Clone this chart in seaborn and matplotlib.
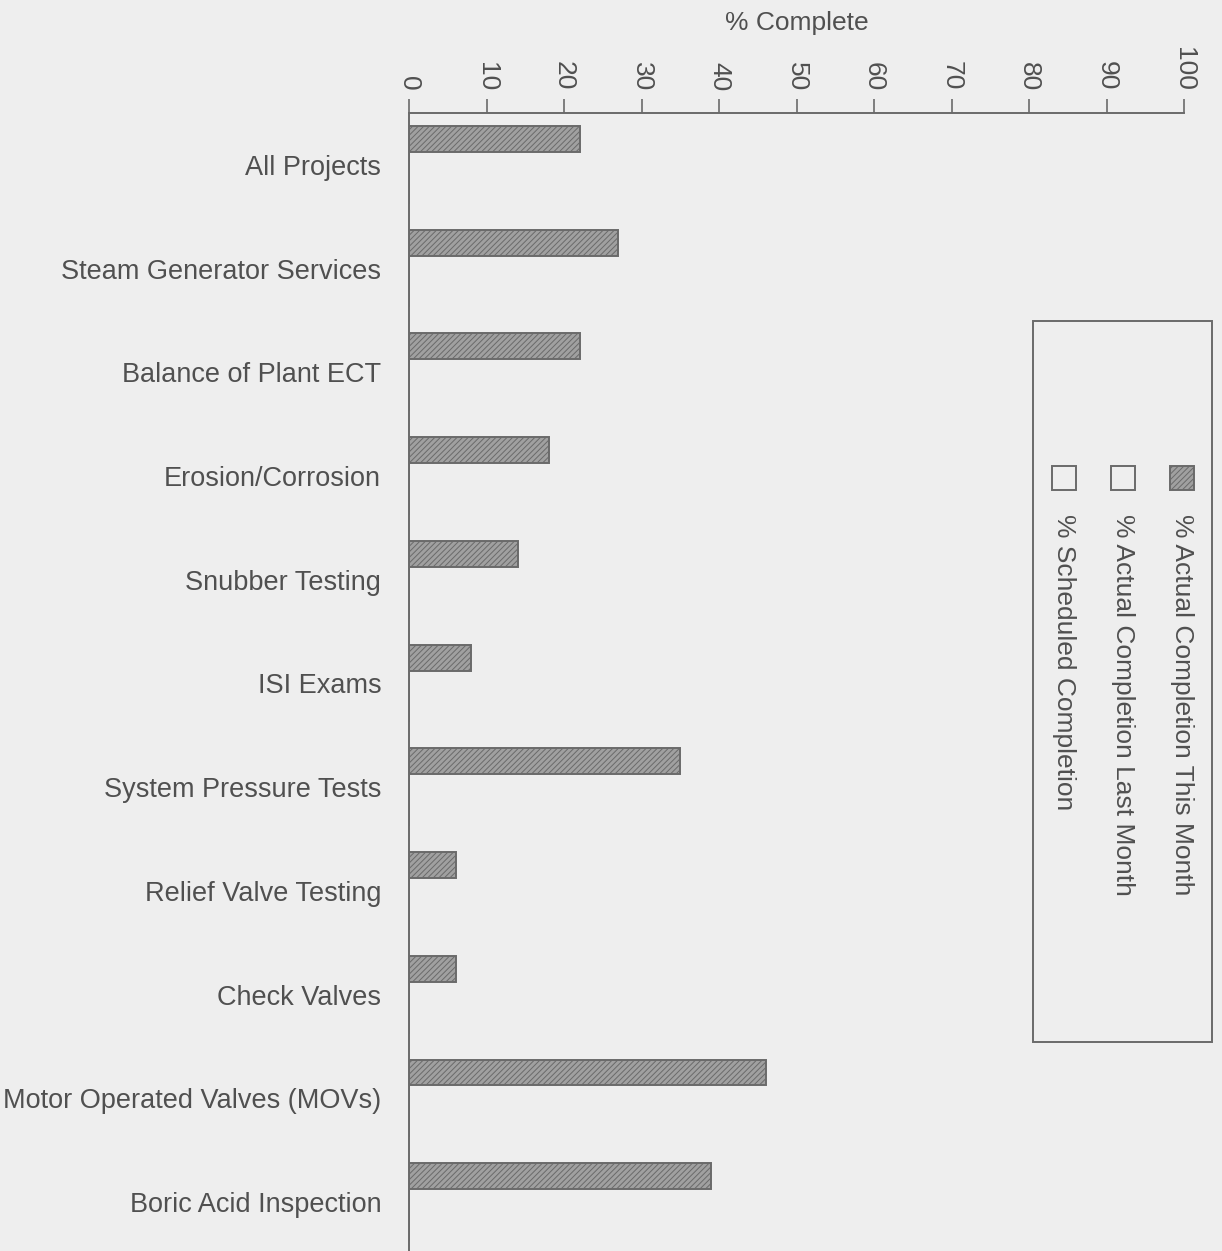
import numpy as np
import pandas as pd
import matplotlib
matplotlib.use('Agg')
import matplotlib.pyplot as plt
from matplotlib.patches import Rectangle
import seaborn as sns

# Data
projects = ['All Projects', 'Steam Generator Services', 'Balance of Plant ECT',
            'Erosion/Corrosion', 'Snubber Testing', 'ISI Exams',
            'System Pressure Tests', 'Relief Valve Testing', 'Check Valves',
            'Motor Operated Valves (MOVs)', 'Boric Acid Inspection']
series_names = ['% Actual Completion This Month',
                '% Actual Completion Last Month',
                '% Scheduled Completion']
actual_this_month = [22, 27, 22, 18, 14, 8, 35, 6, 6, 46, 39]
actual_last_month = [0, 0, 0, 0, 0, 0, 0, 0, 0, 0, 0]
scheduled = [0, 0, 0, 0, 0, 0, 0, 0, 0, 0, 0]
x_ticks = [0, 10, 20, 30, 40, 50, 60, 70, 80, 90, 100]

df = pd.DataFrame({
    'Project': projects * 3,
    'Series': [series_names[0]] * len(projects) + [series_names[1]] * len(projects)
              + [series_names[2]] * len(projects),
    'Value': actual_this_month + actual_last_month + scheduled,
})

sns.set_style('white')
plt.rcParams['font.family'] = ['Liberation Sans', 'DejaVu Sans']
plt.rcParams['hatch.linewidth'] = 0.7

bg = '#eeeeee'
edge = '#6a6a6a'
txt = '#505050'
bar_fill = '#a0a0a0'
fig = plt.figure(figsize=(12.22, 12.51), dpi=100, facecolor=bg)
ax = fig.add_axes([409 / 1222, 1 - 1254 / 1251, 775 / 1222, 1141 / 1251])
ax.set_facecolor(bg)

sns.barplot(data=df, y='Project', x='Value', hue='Series', orient='h',
            width=0.75, palette=[bar_fill, bg, bg], edgecolor=edge,
            linewidth=1.4, hatch='//////', legend=False, ax=ax)

ax.set_xlim(0, 100)
ax.set_ylim(len(projects) - 0.5, -0.5)

# x axis on top with rotated labels
ax.xaxis.tick_top()
ax.xaxis.set_label_position('top')
ax.set_xticks(x_ticks)
ax.set_xticklabels([str(t) for t in x_ticks], rotation=270, fontsize=19, color=txt)
ax.tick_params(axis='x', direction='out', length=10, width=1.2, color=edge, pad=6)
ax.set_xlabel('% Complete', fontsize=19, color=txt, labelpad=12)

# y: labels at centres, tick marks at band boundaries
ax.set_yticks(range(len(projects)))
ax.set_yticklabels(projects, fontsize=19.5, color=txt)
ax.set_yticks(np.arange(-0.5, len(projects), 1.0), minor=True)
ax.tick_params(axis='y', which='major', length=0, pad=20)
ax.tick_params(axis='y', which='minor', direction='out', length=10, width=1.2, color=edge)
ax.set_ylabel('')

for s in ['right', 'bottom']:
    ax.spines[s].set_visible(False)
for s in ['left', 'top']:
    ax.spines[s].set_color(edge)
    ax.spines[s].set_linewidth(1.4)

# Rotated legend drawn by hand
fig.patches.append(Rectangle((1033 / 1222, 1 - 1042 / 1251), 179 / 1222, 721 / 1251,
                             transform=fig.transFigure, fill=False, edgecolor=edge,
                             linewidth=1.4))
leg_x = [1182, 1123, 1064]
leg_fill = [bar_fill, bg, bg]
for name, xc, fc in zip(series_names, leg_x, leg_fill):
    fig.patches.append(Rectangle(((xc - 12) / 1222, 1 - 490 / 1251), 24 / 1222, 24 / 1251,
                                 transform=fig.transFigure, facecolor=fc, edgecolor=edge,
                                 linewidth=1.4, hatch='//////' if fc != bg else None))
    fig.text(xc / 1222, 1 - 514 / 1251, name, rotation=270, ha='center', va='top',
             fontsize=19, color=txt)

fig.savefig('out.png', dpi=100, facecolor=bg)
